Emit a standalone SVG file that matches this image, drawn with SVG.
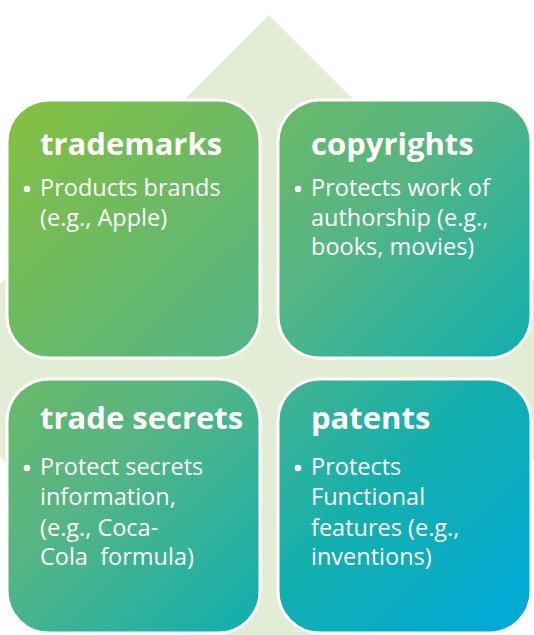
<svg xmlns="http://www.w3.org/2000/svg" width="534" height="635" viewBox="0 0 534 635">
<defs>
<linearGradient id="grad" gradientUnits="userSpaceOnUse" x1="7" y1="100" x2="531" y2="633">
<stop offset="0" stop-color="#86C03E"/>
<stop offset="0.45" stop-color="#56B584"/>
<stop offset="0.72" stop-color="#14AFAD"/>
<stop offset="1" stop-color="#00A9DC"/>
</linearGradient>
<style>
.box{fill:url(#grad);stroke:#FFFFFF;stroke-width:3}
.title{font-family:"Open Sans","Noto Sans","DejaVu Sans",sans-serif;font-weight:bold;font-size:31px;fill:#FFFFFF}
.body{font-family:"Open Sans","Noto Sans","DejaVu Sans",sans-serif;font-size:23.5px;fill:#FFFFFF}
.bullet{fill:#FFFFFF}
</style>
</defs>
<rect width="534" height="635" fill="#FFFFFF"/>
<polygon id="background" points="269,15 624,370 269,725 -86,370" fill="#E3EDD6"/>
<g id="connectors"/>
<g id="trademarks">
<rect class="box" x="7" y="100" width="253" height="258" rx="42" ry="42"/>
<text class="title" x="40" y="155">trademarks</text>
<circle class="bullet" cx="27" cy="189" r="3.3"/>
<text class="body" x="40" y="196">Products brands</text>
<text class="body" x="40" y="226">(e.g., Apple)</text>
</g>
<g id="copyrights">
<rect class="box" x="278" y="100" width="253" height="258" rx="42" ry="42"/>
<text class="title" x="311" y="155">copyrights</text>
<circle class="bullet" cx="298" cy="189" r="3.3"/>
<text class="body" x="311" y="196">Protects work of</text>
<text class="body" x="311" y="226">authorship (e.g.,</text>
<text class="body" x="311" y="255">books, movies)</text>
</g>
<g id="trade-secrets">
<rect class="box" x="7" y="379" width="253" height="254" rx="42" ry="42"/>
<text class="title" x="40" y="429">trade secrets</text>
<circle class="bullet" cx="27" cy="468" r="3.3"/>
<text class="body" x="40" y="475">Protect secrets</text>
<text class="body" x="40" y="505">information,</text>
<text class="body" x="40" y="536">(e.g., Coca-</text>
<text class="body" x="40" y="565" xml:space="preserve">Cola  formula)</text>
</g>
<g id="patents">
<rect class="box" x="278" y="379" width="253" height="254" rx="42" ry="42"/>
<text class="title" x="311" y="429">patents</text>
<circle class="bullet" cx="298" cy="468" r="3.3"/>
<text class="body" x="311" y="475">Protects</text>
<text class="body" x="311" y="505">Functional</text>
<text class="body" x="311" y="536">features (e.g.,</text>
<text class="body" x="311" y="565">inventions)</text>
</g>
</svg>
